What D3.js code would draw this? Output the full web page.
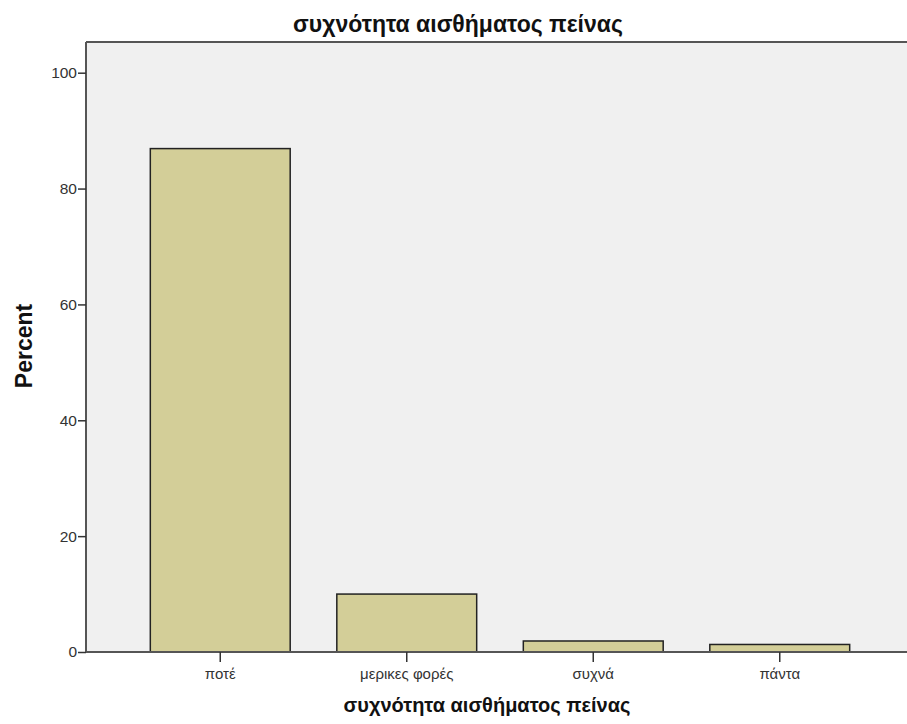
<!DOCTYPE html>
<html><head><meta charset="utf-8">
<script src="https://cdn.jsdelivr.net/npm/d3@7"></script>
<style>body{margin:0;background:#fff}svg{display:block}</style>
</head><body>
<svg id="c" width="907" height="724"></svg>
<script>
const categories = ["ποτέ", "μερικες φορές", "συχνά", "πάντα"];
const percentValues = [86.9, 10.0, 1.9, 1.3];
const yTicks = [0, 20, 40, 60, 80, 100];
const titleText = "συχνότητα αισθήματος πείνας";
const xLabel = "συχνότητα αισθήματος πείνας";
const yLabel = "Percent";

(function () {
const svg = d3.select("#c");
const font = "Arial, 'Liberation Sans', sans-serif";
const pLeft = 86, pRight = 907, pTop = 42, pBottom = 652;

const y = d3.scaleLinear().domain([0, 105.3]).range([pBottom, pTop]);
const x = d3.scaleBand().domain(categories).range([127, 873]).paddingInner(0.25).paddingOuter(0.125);

svg.append("rect").attr("x", pLeft).attr("y", pTop).attr("width", pRight - pLeft).attr("height", pBottom - pTop).attr("fill", "#f0f0f0");

svg.selectAll("rect.bar").data(categories).join("rect").attr("class", "bar")
  .attr("x", d => x(d)).attr("width", x.bandwidth())
  .attr("y", (d, i) => y(percentValues[i])).attr("height", (d, i) => y(0) - y(percentValues[i]))
  .attr("fill", "#d3ce98").attr("stroke", "#222").attr("stroke-width", 1.5);

svg.append("line").attr("x1", pLeft).attr("x2", pRight).attr("y1", pTop).attr("y2", pTop).attr("stroke", "#555").attr("stroke-width", 2);

const yAxis = svg.append("g").attr("transform", `translate(${pLeft},0)`)
  .call(d3.axisLeft(y).tickValues(yTicks).tickSize(8).tickSizeOuter(0).tickPadding(1));
yAxis.select(".domain").attr("stroke", "#555").attr("stroke-width", 2).attr("d", `M0,${pTop}V${pBottom}`);
yAxis.selectAll(".tick line").attr("stroke", "#333").attr("stroke-width", 1.5);
yAxis.selectAll("text").attr("font-family", font).attr("font-size", 15.5).attr("fill", "#333");

const xAxis = svg.append("g").attr("transform", `translate(0,${pBottom})`)
  .call(d3.axisBottom(x).tickSize(10).tickSizeOuter(0).tickPadding(6));
xAxis.select(".domain").attr("stroke", "#555").attr("stroke-width", 2).attr("d", `M${pLeft},0H${pRight}`);
xAxis.selectAll(".tick line").attr("stroke", "#333").attr("stroke-width", 1.5);
xAxis.selectAll("text").attr("font-family", font).attr("font-size", 15).attr("fill", "#333");

svg.append("text").attr("x", 458).attr("y", 32).attr("text-anchor", "middle")
  .attr("font-family", font).attr("font-size", 23).attr("font-weight", "bold").attr("fill", "#111").text(titleText);
svg.append("text").attr("x", 487).attr("y", 712).attr("text-anchor", "middle")
  .attr("font-family", font).attr("font-size", 20).attr("font-weight", "bold").attr("fill", "#111").text(xLabel);
svg.append("text").attr("transform", "translate(32,346) rotate(-90)").attr("text-anchor", "middle")
  .attr("font-family", font).attr("font-size", 23).attr("font-weight", "bold").attr("fill", "#111").text(yLabel);
})();
</script>
</body></html>
